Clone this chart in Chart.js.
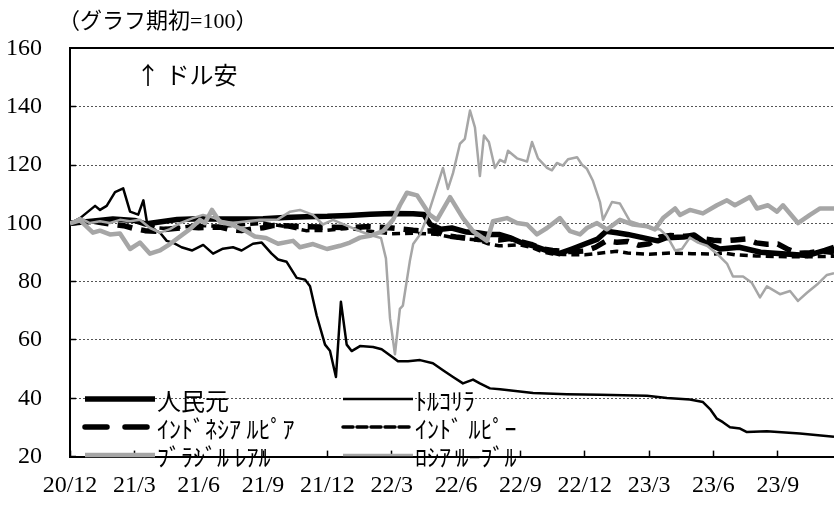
<!DOCTYPE html>
<html>
<head>
<meta charset="utf-8">
<script src="https://cdn.jsdelivr.net/npm/chart.js"></script>
<style>
  html, body { margin: 0; padding: 0; background: #fff; }
</style>
</head>
<body>
<canvas id="fxChart" width="834" height="505"></canvas>
<script>
  // x values are months since 2020/12 (0 = 20/12), y values: index, start of chart = 100
  const xTickMonths = [0, 3, 6, 9, 12, 15, 18, 21, 24, 27, 30, 33];
  const xTickLabels = ["20/12", "21/3", "21/6", "21/9", "21/12", "22/3", "22/6", "22/9", "22/12", "23/3", "23/6", "23/9"];
  const yTickValues = [20, 40, 60, 80, 100, 120, 140, 160];

  const seriesNames = ["人民元", "ﾄﾙｺﾘﾗ", "ｲﾝﾄﾞﾈｼｱ ﾙﾋﾟｱ", "ｲﾝﾄﾞ ﾙﾋﾟｰ", "ﾌﾞﾗｼﾞﾙ ﾚｱﾙ", "ﾛｼｱ ﾙｰﾌﾞﾙ"];

  const cnyMonths = [0,1,2,3,3.5,4,5,6,7,8,9,10,11,12,13,14,15,16,16.5,16.8,17.3,17.8,18.5,19,19.5,20,20.5,21,21.6,22.2,22.8,23.4,24,24.6,25,25.5,26,26.7,27.4,27.8,28.6,29.1,29.6,30.3,31.2,32.2,33.2,34.4,35.2,35.62];
  const cnyValues = [100,100.7,101.5,101,99.8,100.3,101.3,101.6,101.5,101.5,101.6,102,102.3,102.4,102.7,103.1,103.4,103.3,103,99.6,98,98.4,97,96.8,96.2,96.2,95.1,93.5,92.3,90.7,89.6,91.2,92.9,94.6,97.3,96.8,96.2,95.1,94,95.1,95.3,96,93.4,91.2,91.8,90.1,89.6,89,90.7,91.8];

  const tryMonths = [0,0.47,1.17,1.4,1.71,2.1,2.48,2.8,3.18,3.42,3.58,3.73,4.2,4.51,4.8,5.2,5.7,6.21,6.67,7.13,7.6,8.0,8.53,8.94,9.4,9.7,10.1,10.57,10.96,11.19,11.5,11.89,12.12,12.4,12.63,12.9,13.13,13.52,14.13,14.53,15.06,15.29,15.76,16.32,16.92,17.39,17.86,18.32,18.79,19.11,19.58,20.05,21.59,23.17,24.71,26.9,27.83,28.9,29.51,29.84,30.16,30.44,30.77,31.24,31.56,32.49,34.03,35.62];
  const tryValues = [100,101.8,106,104.6,106,110.7,112,104,103,107.9,100.7,98.4,96.8,94,93.4,91.8,90.7,92.6,89.6,91.3,91.8,90.7,93,93.4,89.6,87.6,86.8,81.3,80.7,78.4,68.4,58.4,56.3,47.3,73.1,58.4,56.2,57.9,57.6,56.8,54,52.7,52.7,53.1,52,49.6,47.3,45.1,46.4,45.1,43.4,43.1,41.8,41.4,41.2,40.9,40.1,39.6,38.7,36.3,33,31.8,30.1,29.6,28.4,28.7,27.9,26.8];

  const idrMonths = [0,0.5,1,1.5,2,2.5,3,3.5,4,4.5,5,5.5,6,7,7.5,8,9,9.5,10,11,12,13,14,15,16,16.5,17,17.5,18,19,20,20.5,21,21.5,22,22.5,23,23.5,24,24.5,25,25.5,26,26.5,27,27.5,28,28.5,29,29.5,30,30.5,31,31.5,32,32.5,33,33.5,34,34.5,35,35.62];
  const idrValues = [100,100.5,100.8,100.2,99.6,99.2,98.2,97.5,97.3,98,98.3,98.8,98.5,98.7,97.8,97.5,98.5,99.3,99.2,98.8,98.7,98.6,98.9,98.4,97.6,97.3,97.5,95.8,95.3,94.5,94.3,94.8,93.7,92.8,91.3,90.7,90.4,90.3,90.5,91.8,94,93.5,93.8,92.5,93,95.3,95.8,95.6,95.5,94.7,94.2,94,94.3,94.6,93.3,92.8,92.9,91,89.7,89.9,90.5,90];

  const inrMonths = [0,1,2,3,3.5,4,4.5,5,6,7,8,9,10,11,12,13,14,15,16,17,18,19,19.5,20,21,21.5,22,22.5,23,24,25,25.5,26,27,28,29,30,30.5,31,32,33,34,35,35.62];
  const inrValues = [100,100.3,101,101.2,100,98.5,98.2,98.5,99.3,99,99.5,100,99,97.5,97.6,98.3,97.3,96.4,96.6,96.3,95,94.3,93,92.3,92.6,91.8,90.3,89.5,89.3,89.2,90,90.4,89.8,89.4,89.8,89.6,89.5,89.8,89.2,88.8,88.6,88.5,88.6,88.7];

  const brlMonths = [0,0.47,1.07,1.4,1.86,2.33,2.8,3.26,3.73,4.2,4.66,5.13,5.59,6.06,6.29,6.62,6.99,7.55,8.16,8.62,9.14,9.7,10.4,10.72,11.33,11.98,12.59,13.05,13.52,13.99,14.59,15.06,15.38,15.71,16.18,16.78,17.11,17.72,18.32,18.79,19.44,19.72,20.37,20.84,21.31,21.77,22.24,22.84,23.31,23.78,24.1,24.57,25.03,25.64,26.25,26.9,27.27,27.65,28.21,28.44,28.9,29.51,30.16,30.63,31,31.7,32.03,32.54,32.96,33.24,33.94,34.5,34.97,35.62];
  const brlValues = [100,101,96.8,97.5,96.2,96.5,91.2,93.4,89.6,90.7,92.9,95.5,98,101.2,100.1,104.6,100.5,99.5,97.5,95.5,95,93,94,91.8,92.9,91.2,92.3,93.4,95.1,95.7,97.3,101.2,106.2,110.5,109.6,102.9,101.2,109,101.8,97.3,94,100.7,101.8,100.1,99.6,96.2,98.4,101.8,97.3,96.2,98.4,100.1,97.9,101.2,99.6,99,97.9,101.8,105.1,102.9,104.6,103.4,106.2,107.9,106.2,109,105.1,106.2,104,106.2,100.1,102.9,105.1,105.1];

  const rubMonths = [0,0.47,0.93,1.4,1.86,2.33,2.8,3.26,3.73,4.2,4.66,5.13,5.73,6.2,6.67,7.13,7.6,8.25,8.86,9.65,10.26,10.72,11.33,11.79,12.26,12.82,13.52,14.13,14.5,14.73,14.92,15.15,15.38,15.52,15.85,16,16.32,16.64,17.39,17.62,17.86,18.18,18.41,18.65,18.88,19.11,19.3,19.53,19.81,20.05,20.28,20.42,20.84,21.31,21.54,21.82,22.24,22.47,22.7,22.98,23.22,23.64,23.87,24.1,24.38,24.71,24.85,25.27,25.64,26.11,26.57,27.04,27.51,27.83,28.21,28.53,28.9,29.28,29.7,30.16,30.63,30.91,31.38,31.79,32.17,32.49,33.1,33.57,33.94,34.36,34.83,35.29,35.62];
  const rubValues = [100,101.8,100.1,100.7,100.1,101.2,100.7,101.2,98.4,96.8,98,100.1,101.8,102.9,102,100.7,100.1,100.7,101.2,101.2,104,104.6,102.9,99.6,101.2,99.5,97.3,95.7,95,88,67.4,55.1,70.7,71.8,87.3,92.9,96.2,101.8,119,111.8,117.3,127.3,129,138.7,132.9,116.2,130.1,127.9,119,121.8,120.9,124.9,122.3,121.2,127.9,122.3,119,118.2,120.7,119.8,122,122.7,120.1,118.7,114.6,107.3,101.2,107.3,106.8,100.7,99.6,98.4,97.9,95.7,90.7,91.2,95.1,93.4,92.3,89.6,86.2,81.8,81.8,79.6,74.6,78.4,75.7,76.8,73.4,76.2,79,82.3,82.9];

  const titleText = "（グラフ期初=100）";
  const noteText = "↑ ドル安";

  function points(months, values) {
    return months.map((m, i) => ({ x: m, y: values[i] }));
  }

  const black = "#000000";
  const gray = "#a6a6a6";

  const datasets = [
    { label: seriesNames[0], data: points(cnyMonths, cnyValues), borderColor: black, borderWidth: 5.5, order: 6 },
    { label: seriesNames[1], data: points(tryMonths, tryValues), borderColor: black, borderWidth: 2.5, order: 5 },
    { label: seriesNames[2], data: points(idrMonths, idrValues), borderColor: black, borderWidth: 5.5, borderDash: [15, 9], legendDash: [22, 18], order: 4 },
    { label: seriesNames[3], data: points(inrMonths, inrValues), borderColor: black, borderWidth: 3.5, borderDash: [8, 5], legendDash: [10, 4], order: 3 },
    { label: seriesNames[4], data: points(brlMonths, brlValues), borderColor: gray, borderWidth: 4.5, order: 2 },
    { label: seriesNames[5], data: points(rubMonths, rubValues), borderColor: gray, borderWidth: 2.5, order: 1 }
  ];

  // legend inside the plot, two columns, three rows
  const legendCols = [85, 343];
  const legendRows = [399, 427, 455];

  const overlayPlugin = {
    id: "overlay",
    afterDatasetsDraw(chart) {
      const ctx = chart.ctx;
      ctx.save();
      ctx.fillStyle = "#000";
      ctx.textBaseline = "middle";
      ctx.font = '22px "Liberation Serif", "Noto Sans CJK JP"';
      ctx.fillText(titleText, 58, 22);
      ctx.font = '24px "Noto Sans CJK JP"';
      ctx.fillText(noteText, 136, 75);

      ctx.font = '24px "Noto Sans CJK JP"';
      chart.data.datasets.forEach((ds, i) => {
        const x0 = legendCols[i % 2];
        const y = legendRows[Math.floor(i / 2)];
        ctx.strokeStyle = ds.borderColor;
        ctx.lineWidth = ds.borderWidth;
        ctx.setLineDash(ds.legendDash || ds.borderDash || []);
        ctx.lineCap = ds.borderDash ? "round" : "butt";
        ctx.beginPath();
        ctx.moveTo(x0, y);
        ctx.lineTo(x0 + 70, y);
        ctx.stroke();
        ctx.setLineDash([]);
        ctx.fillText(ds.label, x0 + 72, y + 2);
      });
      ctx.restore();
    }
  };

  const ctx = document.getElementById("fxChart").getContext("2d");
  new Chart(ctx, {
    type: "line",
    data: { datasets: datasets },
    options: {
      responsive: false,
      animation: false,
      layout: { padding: { top: 42, right: 0, bottom: 0, left: 0 } },
      elements: {
        point: { radius: 0 },
        line: { tension: 0, fill: false, borderJoinStyle: "round" }
      },
      plugins: {
        legend: { display: false },
        tooltip: { enabled: false }
      },
      scales: {
        x: {
          type: "linear",
          min: 0,
          max: 35.62,
          afterBuildTicks: (scale) => { scale.ticks = xTickMonths.map(v => ({ value: v })); },
          afterFit: (scale) => { scale.height = 43; },
          ticks: {
            callback: (v, i) => xTickLabels[i],
            font: { family: "Liberation Serif", size: 24 },
            color: "#000",
            padding: 21,
            maxRotation: 0,
            autoSkip: false
          },
          grid: { drawOnChartArea: false, drawTicks: true, tickLength: -6, tickColor: "#000", tickWidth: 1.5 },
          border: { color: "#000", width: 2 }
        },
        y: {
          min: 20,
          max: 160,
          afterBuildTicks: (scale) => { scale.ticks = yTickValues.map(v => ({ value: v })); },
          afterFit: (scale) => { scale.width = 70; },
          ticks: {
            font: { family: "Liberation Serif", size: 24 },
            color: "#000",
            padding: 34
          },
          grid: {
            color: (c) => {
              const v = c.tick ? c.tick.value : null;
              if (v === 160) return "#000";
              if (v === 20) return "rgba(0,0,0,0)";
              return "#555";
            },
            lineWidth: (c) => (c.tick && c.tick.value === 160 ? 2 : 1),
            drawTicks: true,
            tickLength: -6,
            tickColor: "#000",
            tickWidth: 1.5
          },
          border: {
            color: "#000",
            width: 2,
            dash: (c) => (c.tick && c.tick.value === 160 ? [] : [2, 2])
          }
        }
      }
    },
    plugins: [overlayPlugin]
  });
</script>
</body>
</html>
